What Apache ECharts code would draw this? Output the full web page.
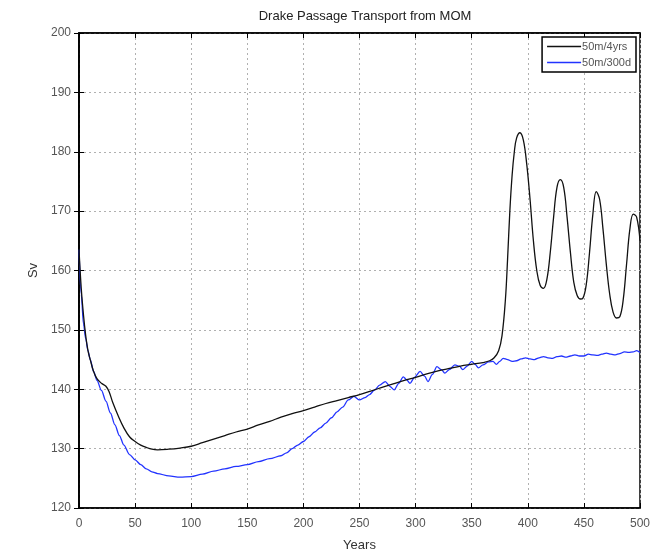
<!DOCTYPE html>
<html><head><meta charset="utf-8">
<script src="https://cdn.jsdelivr.net/npm/echarts@6/dist/echarts.min.js"></script>
<style>html,body{margin:0;padding:0;background:#fff}#c{width:669px;height:558px}</style>
</head><body><div id="c"></div>
<script>
var titleText = "Drake Passage Transport from MOM";
var xTicks = [0,50,100,150,200,250,300,350,400,450,500];
var yTicks = [120,130,140,150,160,170,180,190,200];
var seriesNames = ["50m/4yrs", "50m/300d"];

var blackYears = [0,2,4,6,8,10,13,16,20,24,27,30,35,40,45,50,55,60,65,70,80,90,100,110,120,130,140,150,160,170,180,190,200,210,220,230,240,250,260,270,280,290,300,310,320,330,340,350,360,366,370,374,377,380,382,384,386,388,390,393,396,399,402,405,408,411,414,417,420,423,426,429,432,435,438,441,444,447,449,452,455,458,461,464,467,470,473,476,479,482,485,488,491,494,497,500];
var blackVals = [163.5,157,152.5,149,146.5,145,143,141.8,141,140.5,139.5,137.8,135.5,133.5,132,131.2,130.6,130.2,129.9,129.8,129.9,130.1,130.4,131,131.6,132.2,132.8,133.3,134,134.6,135.3,135.9,136.4,137,137.6,138.1,138.6,139.1,139.7,140.3,140.9,141.5,142,142.6,143.1,143.5,143.9,144.2,144.5,144.8,145.3,146.5,149,155,162,170,176,180,182.3,183.2,182,178,172,165,160,157.5,157,158.5,163,169,174,175.3,174,169,163,158,155.8,155.2,155.3,157.5,163,169.5,173.3,172,167,161,156,153,152,152.2,155,161,167,169.5,169,165];

var blueYears = [0,2,4,6,8,10,13,16,20,24,28,32,36,40,45,50,55,60,65,70,80,90,100,110,120,130,140,150,160,170,180,185,190,195,200,205,210,215,220,225,230,235,240,245,250,255,259,263,268,273,277,281,285,289,292,295,299,304,308,311,315,319,323,326,330,335,339,342,346,350,353,356,360,365,369,372,375,378,382,386,390,394,398,402,406,410,414,418,422,426,430,434,438,442,446,450,454,458,462,466,470,474,478,482,486,490,494,497,500];
var blueVals = [163.5,156,151,148.5,146.5,145,143,141.5,139.8,138,136,134,132.2,130.6,129,128.1,127.3,126.6,126.1,125.8,125.4,125.2,125.3,125.7,126.2,126.6,127,127.3,127.8,128.3,128.8,129.3,130,130.6,131.2,132,132.8,133.5,134.3,135.2,136.2,137,138.2,138.8,138.2,138.6,139.1,139.8,140.7,141.3,140.5,139.9,141,142.1,141.6,141,142,143,142.2,141.3,142.5,143.8,143.3,142.7,143.3,144.1,143.9,143.3,143.9,144.7,144.2,143.6,144.1,144.6,144.7,144.2,144.7,145.2,145,144.7,144.8,145.1,145.3,145.1,145,145.3,145.5,145.3,145.2,145.5,145.6,145.4,145.6,145.8,145.6,145.6,145.9,145.8,145.7,145.9,146.1,145.9,145.8,146,146.3,146.2,146.3,146.5,146.2];

function pairs(xs, ys){ return xs.map(function(x,i){ return [x, ys[i]]; }); }

var font = "'Liberation Sans', Arial, sans-serif";
var chart = echarts.init(document.getElementById('c'), null, {renderer:'canvas'});
var gridLine = {show:true, lineStyle:{color:'#b0b0b0', type:[2,3], width:1}};
var tickIn = {show:true, inside:true, length:5, lineStyle:{color:'#000'}};
chart.setOption({
  animation:false,
  backgroundColor:'#fff',
  title:{text:titleText, left:360, textAlign:'center', top:5,
    textStyle:{fontFamily:font, fontSize:13, fontWeight:'normal', color:'#222'}},
  grid:{left:79, right:29, top:33, bottom:50, show:true, borderColor:'#000', borderWidth:1.5, backgroundColor:'#fff'},
  legend:{data:seriesNames, orient:'vertical', right:33, top:37, itemWidth:34, itemHeight:8, itemGap:5,
    icon:'path://M0,4L26,4L26,5.2L0,5.2Z',
    borderColor:'#000', borderWidth:1.5, backgroundColor:'#fff', padding:[4,5,4,5],
    textStyle:{fontFamily:font, fontSize:11, color:'#555', padding:[0,0,0,-4]}},
  xAxis:[
    {type:'value', min:0, max:500, interval:50, position:'bottom',
     name:'Years', nameLocation:'middle', nameGap:31,
     nameTextStyle:{fontFamily:font, fontSize:13, color:'#333'},
     axisLine:{show:true, onZero:false, lineStyle:{color:'#000', width:1.5}},
     axisTick:tickIn, splitLine:gridLine,
     axisLabel:{fontFamily:font, fontSize:12, color:'#555', margin:10,
       formatter:function(v){ return xTicks.indexOf(v)>=0 ? String(v) : ''; }}},
    {type:'value', min:0, max:500, interval:50, position:'top',
     axisLine:{show:true, lineStyle:{color:'#000', width:1.5}},
     axisTick:tickIn, axisLabel:{show:false}, splitLine:{show:false}}
  ],
  yAxis:[
    {type:'value', min:120, max:200, interval:10, position:'left',
     name:'Sv', nameLocation:'middle', nameGap:38, nameRotate:90,
     nameTextStyle:{fontFamily:font, fontSize:13, color:'#333'},
     axisLine:{show:true, onZero:false, lineStyle:{color:'#000', width:1.5}},
     axisTick:tickIn, splitLine:gridLine,
     axisLabel:{fontFamily:font, fontSize:12, color:'#555', margin:8,
       formatter:function(v){ return yTicks.indexOf(v)>=0 ? String(v) : ''; }}},
    {type:'value', min:120, max:200, interval:10, position:'right',
     axisLine:{show:true, lineStyle:{color:'#000', width:1.5}},
     axisTick:tickIn, axisLabel:{show:false}, splitLine:{show:false}}
  ],
  series:[
    {name:seriesNames[0], type:'line', data:pairs(blackYears, blackVals), showSymbol:false, symbol:'none',
     smooth:0.4, lineStyle:{color:'#111', width:1.3}, itemStyle:{color:'#111'}, z:3},
    {name:seriesNames[1], type:'line', data:pairs(blueYears, blueVals), showSymbol:false, symbol:'none',
     smooth:0.3, smoothMonotone:'x', lineStyle:{color:'#2233ff', width:1.3}, itemStyle:{color:'#2233ff'}, z:2}
  ]
});
</script></body></html>
